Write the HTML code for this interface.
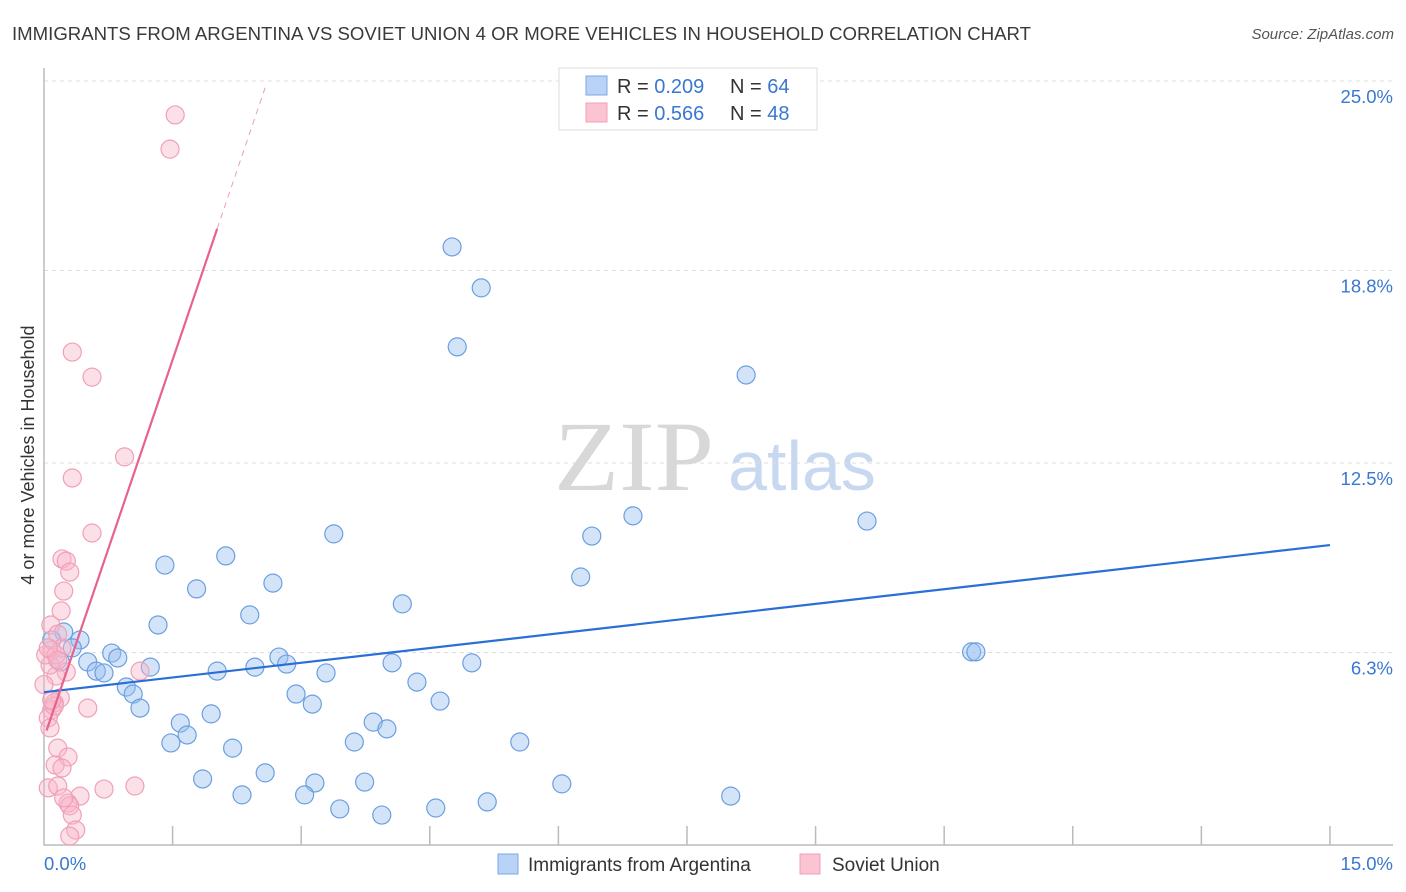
<!DOCTYPE html>
<html><head><meta charset="utf-8"><style>
body{margin:0;background:#fff;font-family:"Liberation Sans",sans-serif;}
</style></head><body>
<svg id="chart" width="1406" height="892" xmlns="http://www.w3.org/2000/svg" style="display:block">
<text x="12" y="40" font-size="18" fill="#3a3a3a" textLength="1019" lengthAdjust="spacingAndGlyphs">IMMIGRANTS FROM ARGENTINA VS SOVIET UNION 4 OR MORE VEHICLES IN HOUSEHOLD CORRELATION CHART</text>
<text x="1394" y="39" font-size="15" fill="#555" text-anchor="end" font-style="italic">Source: ZipAtlas.com</text>
<text x="634" y="490" font-size="100" fill="#d8d8d8" text-anchor="middle" font-family="Liberation Serif" textLength="160" lengthAdjust="spacingAndGlyphs">ZIP</text>
<text x="802" y="490" font-size="70" fill="#c8d8f0" text-anchor="middle">atlas</text>
<g id="grid"></g>
<g id="axes"></g>
<g id="marks"></g>
<text transform="translate(34,455) rotate(-90)" font-size="18" fill="#333" text-anchor="middle">4 or more Vehicles in Household</text>
<g>
<rect x="559" y="68" width="258" height="62" fill="#fff" stroke="#ddd"/>
<rect x="586" y="76" width="21" height="19" fill="#b8d3f5" stroke="#7aa8e6"/>
<rect x="586" y="103" width="21" height="19" fill="#fac4d2" stroke="#f0a0b8"/>
<text x="617" y="93" font-size="20" fill="#333">R = <tspan fill="#3a78d0">0.209</tspan></text>
<text x="730" y="93" font-size="20" fill="#333">N = <tspan fill="#3a78d0">64</tspan></text>
<text x="617" y="120" font-size="20" fill="#333">R = <tspan fill="#3a78d0">0.566</tspan></text>
<text x="730" y="120" font-size="20" fill="#333">N = <tspan fill="#3a78d0">48</tspan></text>
</g>
<g>
<rect x="498" y="854" width="20" height="20" fill="#b8d3f5" stroke="#7aa8e6"/>
<text x="528" y="871" font-size="19" fill="#333">Immigrants from Argentina</text>
<rect x="800" y="854" width="20" height="20" fill="#fac4d2" stroke="#f0a0b8"/>
<text x="832" y="871" font-size="19" fill="#333">Soviet Union</text>
</g>
</svg>
<script>
const yTicks=[25,18.8,12.5,6.3];
const yTickLabels=["25.0%","18.8%","12.5%","6.3%"];
const xTickLabels=["0.0%","15.0%"];
const blueX=[4.76,5.10,4.82,8.19,6.87,9.60,6.39,3.38,2.12,1.41,6.26,2.67,1.78,4.18,2.40,1.33,10.82,10.87,0.23,0.42,0.09,0.33,0.79,0.86,0.51,0.19,2.74,2.83,4.06,4.99,1.24,0.61,0.70,2.02,2.46,3.29,4.35,0.96,1.04,2.94,4.62,3.13,1.12,1.95,1.59,3.84,4.00,1.67,1.48,3.62,5.55,2.20,2.58,1.85,3.16,3.74,6.04,2.31,3.04,8.01,5.17,3.45,4.57,3.94];
const blueY=[19.57,18.23,16.30,15.38,10.77,10.60,10.11,10.18,9.46,9.16,8.77,8.57,8.38,7.89,7.53,7.20,6.32,6.32,6.97,6.71,6.71,6.45,6.28,6.12,5.99,5.99,6.15,5.92,5.96,5.96,5.82,5.69,5.63,5.69,5.82,5.63,5.33,5.17,4.94,4.94,4.71,4.61,4.48,4.29,3.99,4.02,3.80,3.60,3.34,3.37,3.37,3.17,2.36,2.16,2.03,2.06,2.00,1.64,1.64,1.60,1.41,1.18,1.21,0.98];
const pinkX=[1.53,1.47,0.33,0.56,0.94,0.33,0.56,0.21,0.26,0.30,0.23,0.20,0.08,0.16,0.09,0.21,0.26,0.14,1.12,0.19,0.12,0.09,0.51,0.05,0.07,0.16,0.28,0.13,0.21,0.05,0.16,0.70,1.06,0.42,0.28,0.30,0.33,0.37,0.30,0.12,0.07,0.02,0.14,0.05,0.09,0.23,0.16,0.0];
const pinkY=[23.89,22.77,16.13,15.31,12.70,12.01,10.21,9.36,9.29,8.93,8.31,7.66,7.20,6.90,6.38,6.45,5.66,5.53,5.69,4.81,4.65,4.42,4.48,4.16,3.83,3.17,2.88,2.62,2.52,1.87,1.93,1.83,1.93,1.60,1.37,1.28,0.98,0.49,0.29,4.55,5.89,6.22,6.22,6.45,4.74,1.54,6.05,5.25];
const blueTrend=[5.0,0.321];
const pinkTrend=[3.5,8.25];
const X=v=>44+v*85.73, Y=v=>845-v*30.56;
const NS="http://www.w3.org/2000/svg";
function mk(p,t,a){const e=document.createElementNS(NS,t);for(const k in a)e.setAttribute(k,a[k]);p.appendChild(e);return e;}
const grid=document.getElementById('grid'),axes=document.getElementById('axes'),marks=document.getElementById('marks');
yTicks.forEach((t,i)=>{
 const l=mk(grid,'line',{x1:44,x2:1395,y1:Y(t),y2:Y(t),stroke:'#ddd','stroke-dasharray':'4,4'});
 
 
 const tx=mk(grid,'text',{x:1393,y:Y(t)+22,'font-size':18.5,fill:'#3a78d0','text-anchor':'end'});
 tx.textContent=yTickLabels[i];
 
 
});
const ax=mk(axes,'path',{d:'M44 68 V845 H1393',fill:'none',stroke:'#bbb','stroke-width':1.5});


for(let i=1;i<=10;i++){
 const t=mk(axes,'line',{x1:X(i*1.5),x2:X(i*1.5),y1:826,y2:845,stroke:'#bbb','stroke-width':1.5});
 
 
}
[[0,44,'start'],[15,1393,'end']].forEach((d,i)=>{
 const t=mk(axes,'text',{x:d[1],y:870,'font-size':18.5,fill:'#3a78d0','text-anchor':d[2]});
 t.textContent=xTickLabels[i];
 
 
});
blueX.forEach((x,i)=>{
 const c=mk(marks,'circle',{cx:X(x),cy:Y(blueY[i]),r:9,fill:'rgba(150,190,240,0.42)',stroke:'#6b9fe0','stroke-width':1.2});
 
 
});
pinkX.forEach((x,i)=>{
 const c=mk(marks,'circle',{cx:X(x),cy:Y(pinkY[i]),r:9,fill:'rgba(248,180,200,0.42)',stroke:'#f0a0b8','stroke-width':1.2});
 
 
});
const bl=mk(marks,'line',{x1:X(0),y1:Y(blueTrend[0]),x2:X(15),y2:Y(blueTrend[0]+15*blueTrend[1]),stroke:'#2a6fd6','stroke-width':2.2});


const pf=x=>pinkTrend[0]+pinkTrend[1]*x;
const pl=mk(marks,'line',{x1:X(0.03),y1:Y(pf(0.03)),x2:X(2.02),y2:Y(pf(2.02)),stroke:'#e8628f','stroke-width':2.2});


const pd=mk(marks,'line',{x1:X(2.02),y1:Y(pf(2.02)),x2:X(2.58),y2:Y(pf(2.58)),stroke:'#e8a0b8','stroke-width':1,'stroke-dasharray':'6,5'});


</script>
</body></html>
